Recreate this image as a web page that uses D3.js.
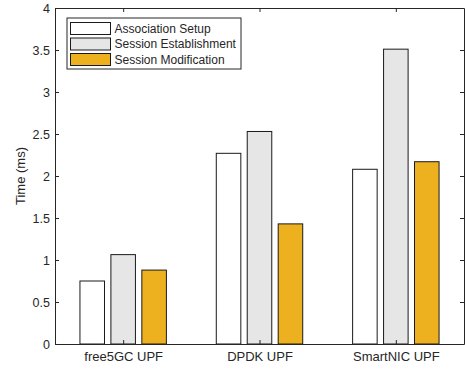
<!DOCTYPE html>
<html>
<head>
<meta charset="utf-8">
<script src="https://cdn.jsdelivr.net/npm/d3@7"></script>
<style>
  body { margin: 0; background: #fff; }
  text { font-family: "Liberation Sans", Arial, sans-serif; fill: #262626; }
</style>
</head>
<body>
<div id="chart"></div>
<script>
var categories = ["free5GC UPF", "DPDK UPF", "SmartNIC UPF"];
var seriesNames = ["Association Setup", "Session Establishment", "Session Modification"];
var seriesColors = ["#ffffff", "#e6e6e6", "#edb120"];
var association = [0.75, 2.27, 2.08];
var establishment = [1.064, 2.53, 3.51];
var modification = [0.88, 1.43, 2.17];
var yTicks = [0, 0.5, 1, 1.5, 2, 2.5, 3, 3.5, 4];

var series = [association, establishment, modification];

var width = 465, height = 370,
    margin = {top: 8, right: 1, bottom: 26, left: 55};

var svg = d3.select("#chart").append("svg")
    .attr("width", width)
    .attr("height", height);

var x = d3.scaleLinear().domain([0.5, 3.5]).range([margin.left, width - margin.right]);
var y = d3.scaleLinear().domain([0, 4]).range([height - margin.bottom, margin.top]);

var barW = 0.18, step = 0.227;

// bars
series.forEach(function (vals, si) {
    svg.append("g")
        .selectAll("rect")
        .data(vals)
        .enter().append("rect")
        .attr("x", function (d, i) { return x(i + 1 + (si - 1) * step - barW / 2); })
        .attr("width", x(barW) - x(0))
        .attr("y", function (d) { return y(d); })
        .attr("height", function (d) { return y(0) - y(d); })
        .attr("fill", seriesColors[si])
        .attr("stroke", "#1a1a1a")
        .attr("stroke-width", 1);
});

// axes
var tickLen = 4;
svg.append("g")
    .attr("transform", "translate(" + margin.left + ",0)")
    .call(d3.axisLeft(y).tickValues(yTicks).tickFormat(d3.format("")).tickSizeInner(-tickLen).tickSizeOuter(0).tickPadding(5))
    .call(function (g) { g.selectAll("text").style("font-size", "12.5px"); });

svg.append("g")
    .attr("transform", "translate(" + (width - margin.right) + ",0)")
    .call(d3.axisRight(y).tickValues(yTicks).tickFormat("").tickSizeInner(-tickLen).tickSizeOuter(0));

svg.append("g")
    .attr("transform", "translate(0," + y(0) + ")")
    .call(d3.axisBottom(x).tickValues([1, 2, 3]).tickFormat(function (d) { return categories[d - 1]; })
        .tickSizeInner(-tickLen).tickSizeOuter(0).tickPadding(8))
    .call(function (g) { g.selectAll("text").style("font-size", "13px"); });

svg.append("g")
    .attr("transform", "translate(0," + y(4) + ")")
    .call(d3.axisTop(x).tickValues([1, 2, 3]).tickFormat("").tickSizeInner(-tickLen).tickSizeOuter(0));

svg.selectAll(".domain, .tick line").attr("stroke", "#262626").attr("stroke-width", 1);
svg.selectAll(".tick text").attr("fill", "#262626");

svg.append("text")
    .attr("transform", "translate(20," + (y(2)) + ") rotate(-90)")
    .attr("text-anchor", "middle")
    .attr("dy", "0.35em")
    .style("font-size", "13px")
    .text("Time (ms)");

// legend
var legend = svg.append("g").attr("transform", "translate(67,18)");
legend.append("rect")
    .attr("width", 174).attr("height", 51)
    .attr("fill", "#fff").attr("stroke", "#262626").attr("stroke-width", 1);
seriesNames.forEach(function (name, i) {
    var row = legend.append("g").attr("transform", "translate(0," + (4.5 + i * 15.5) + ")");
    row.append("rect")
        .attr("x", 3.5).attr("width", 40).attr("height", 12)
        .attr("fill", seriesColors[i]).attr("stroke", "#1a1a1a");
    row.append("text")
        .attr("x", 47.5).attr("y", 6).attr("dy", "0.35em")
        .style("font-size", "12px")
        .text(name);
});
</script>
</body>
</html>
